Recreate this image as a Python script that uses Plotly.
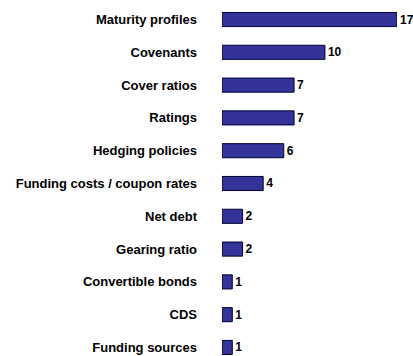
import plotly.graph_objects as go

# Survey topics and number of mentions
topics = [
    "Maturity profiles",
    "Covenants",
    "Cover ratios",
    "Ratings",
    "Hedging policies",
    "Funding costs / coupon rates",
    "Net debt",
    "Gearing ratio",
    "Convertible bonds",
    "CDS",
    "Funding sources",
]
counts = [17, 10, 7, 7, 6, 4, 2, 2, 1, 1, 1]

font_family = "Arial, Liberation Sans, Helvetica, sans-serif"

fig = go.Figure(
    go.Bar(
        x=counts,
        y=topics,
        orientation="h",
        marker=dict(color="#333399", line=dict(color="#000033", width=1)),
        text=[f"<b>{c}</b>" for c in counts],
        textposition="outside",
        constraintext="none",
        textfont=dict(family=font_family, size=12, color="#000000"),
        cliponaxis=False,
        hoverinfo="skip",
    )
)

fig.update_layout(
    width=413,
    height=356,
    margin=dict(l=222, r=16, t=0, b=0),
    paper_bgcolor="white",
    plot_bgcolor="white",
    showlegend=False,
    bargap=0.57,
    font=dict(family=font_family, size=11, color="#000000"),
)

fig.update_xaxes(
    range=[0, 17],
    visible=False,
    showgrid=False,
    zeroline=False,
)

fig.update_yaxes(
    type="category",
    categoryorder="array",
    categoryarray=topics,
    range=[10.26, -0.595],
    showgrid=False,
    zeroline=False,
    showline=False,
    ticks="",
    ticklabelstandoff=24,
    tickfont=dict(family=font_family, size=13, color="#000000", weight="bold"),
)

fig.write_html("out.html")
